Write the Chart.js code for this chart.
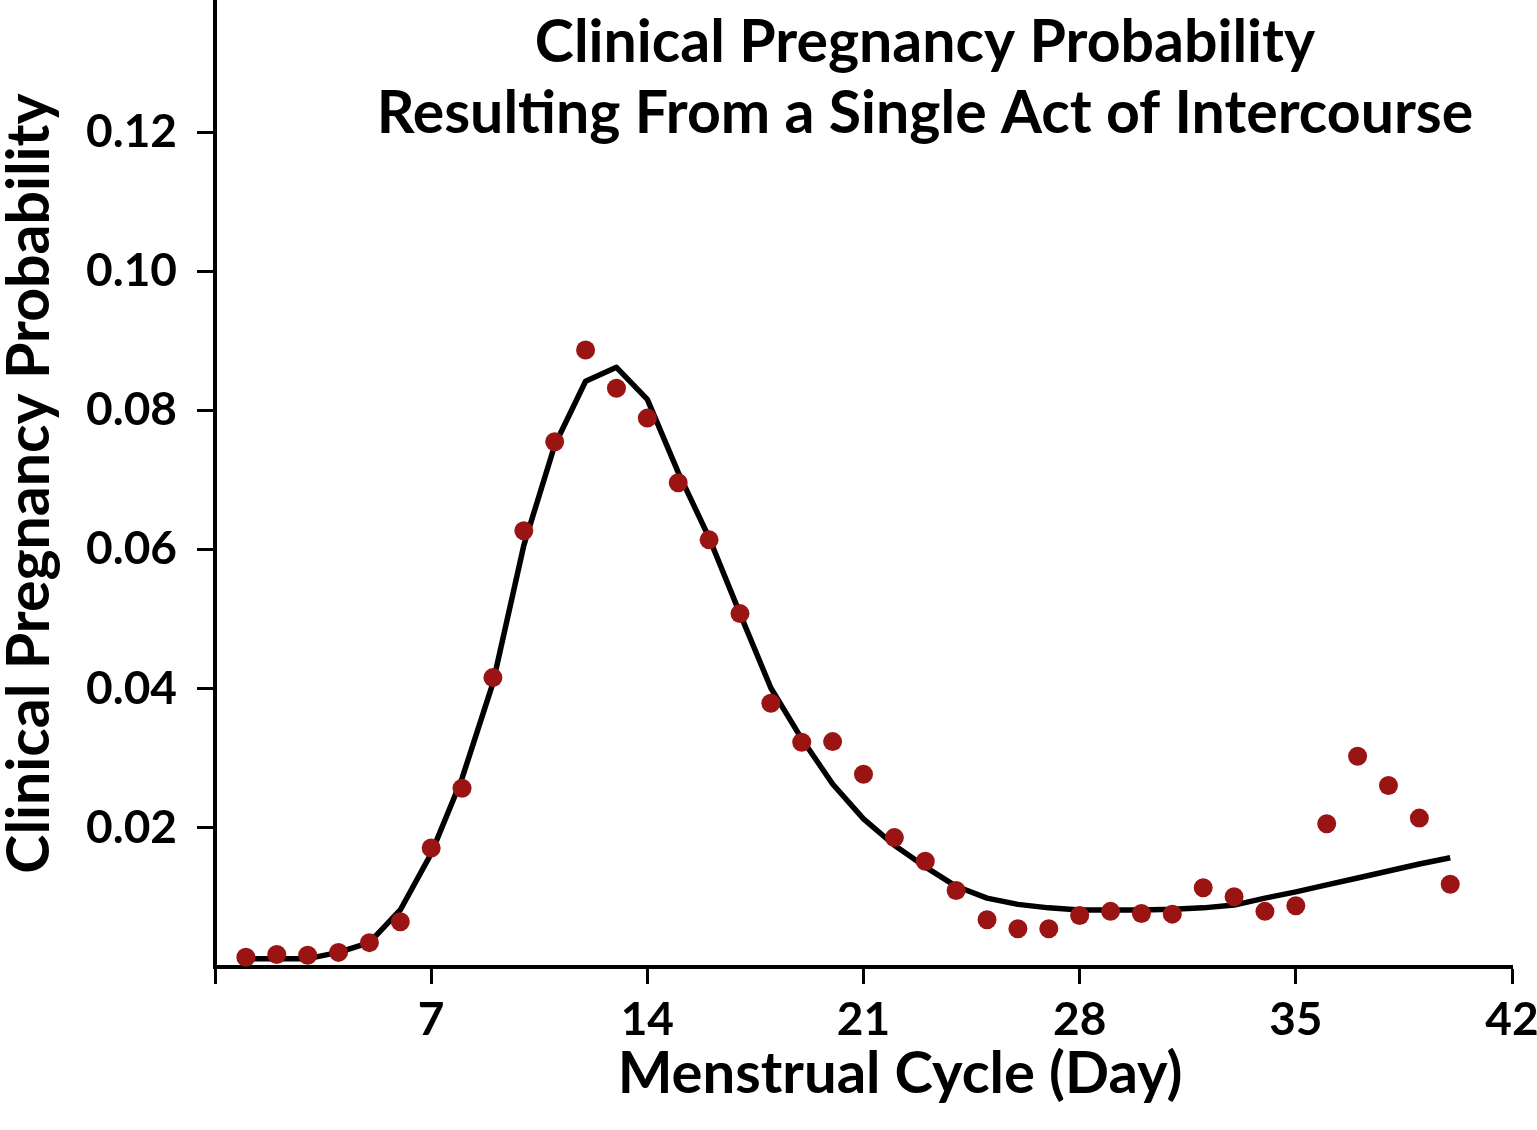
<!DOCTYPE html>
<html>
<head>
<meta charset="utf-8">
<script src="https://cdn.jsdelivr.net/npm/chart.js@4.4.1/dist/chart.umd.min.js"></script>
<style>
    html, body { margin: 0; padding: 0; background: #ffffff; }
    #wrap { width: 1537px; height: 1130px; }
</style>
</head>
<body>
<div id="wrap"><canvas id="myChart" width="1537" height="1130"></canvas></div>
<script>
// menstrual cycle day for each observation
const days = [
    1, 2, 3, 4, 5, 6, 7, 8, 9, 10,
    11, 12, 13, 14, 15, 16, 17, 18, 19, 20,
    21, 22, 23, 24, 25, 26, 27, 28, 29, 30,
    31, 32, 33, 34, 35, 36, 37, 38, 39, 40
];

// observed probability per day (red dots)
const observed = [
    0.0014, 0.0018, 0.0017, 0.0021, 0.0035, 0.0065, 0.0171, 0.0257, 0.0416, 0.0627,
    0.0755, 0.0887, 0.0832, 0.0789, 0.0696, 0.0614, 0.0508, 0.0379, 0.0323, 0.0324,
    0.0277, 0.0186, 0.0152, 0.0110, 0.0068, 0.0055, 0.0055, 0.0074, 0.0080, 0.0077,
    0.0076, 0.0114, 0.0101, 0.0080, 0.0088, 0.0206, 0.0303, 0.0261, 0.0214, 0.0119
];

// fitted curve per day (black line)
const fitted = [
    0.0012, 0.0012, 0.0012, 0.0021, 0.0035, 0.0082, 0.0163, 0.0271, 0.0408, 0.0606,
    0.0750, 0.0842, 0.0862, 0.0816, 0.0711, 0.0617, 0.0508, 0.0401, 0.0328, 0.0263,
    0.0213, 0.0175, 0.0144, 0.0116, 0.0099, 0.0090, 0.0085, 0.0082, 0.0082, 0.0082,
    0.0083, 0.0085, 0.0089, 0.0099, 0.0108, 0.0118, 0.0128, 0.0138, 0.0148, 0.0157
];

const xTicks = [0, 7, 14, 21, 28, 35, 42];
const yTicks = [0.02, 0.04, 0.06, 0.08, 0.10, 0.12];

const titleLines = ['Clinical Pregnancy Probability', 'Resulting From a Single Act of Intercourse'];
const xTitle = 'Menstrual Cycle (Day)';
const yTitle = 'Clinical Pregnancy Probability';

const fontFamily = 'Lato, "Noto Sans", sans-serif';

// titles sit inside the plot, off-centre, so they are drawn here
const titlePlugin = {
    id: 'titles',
    afterDraw(chart) {
        const ctx = chart.ctx;
        ctx.save();
        ctx.fillStyle = '#000';
        ctx.textAlign = 'center';
        ctx.textBaseline = 'alphabetic';
        ctx.font = 'bold 59px ' + fontFamily;
        titleLines.forEach((line, i) => {
            ctx.fillText(line, 925, 62 + i * 71);
        });
        ctx.font = 'bold 58px ' + fontFamily;
        ctx.fillText(xTitle, 900, 1093);
        ctx.restore();
    }
};

const ctx = document.getElementById('myChart').getContext('2d');
const myChart = new Chart(ctx, {
    type: 'scatter',
    data: {
        datasets: [{
            label: 'Observed',
            data: days.map((d, i) => ({ x: d, y: observed[i] })),
            showLine: false,
            pointRadius: 9.5,
            pointHoverRadius: 9.5,
            pointBackgroundColor: '#9b1414',
            pointBorderWidth: 0
        }, {
            label: 'Fitted',
            data: days.map((d, i) => ({ x: d, y: fitted[i] })),
            showLine: true,
            tension: 0,
            borderColor: '#000',
            borderWidth: 5.5,
            borderJoinStyle: 'round',
            pointRadius: 0,
            pointHoverRadius: 0
        }]
    },
    options: {
        responsive: false,
        animation: false,
        devicePixelRatio: 1,
        layout: {
            autoPadding: false,
            padding: { left: 0, right: 25, top: 0, bottom: 0 }
        },
        plugins: {
            legend: { display: false },
            tooltip: { enabled: false },
            title: { display: false }
        },
        scales: {
            x: {
                type: 'linear',
                min: 0,
                max: 42,
                afterBuildTicks: scale => { scale.ticks = xTicks.map(v => ({ value: v })); },
                afterFit: scale => {
                    scale.height = 163;
                    scale.paddingLeft = 0;
                    scale.paddingRight = 0;
                },
                ticks: {
                    callback: v => (v === 0 ? '' : String(v)),
                    color: '#000',
                    padding: 9,
                    maxRotation: 0,
                    font: { family: fontFamily, size: 46, weight: 'bold' }
                },
                grid: {
                    drawOnChartArea: false,
                    drawTicks: true,
                    tickLength: 17,
                    tickWidth: 3,
                    tickColor: '#000'
                },
                border: { display: true, color: '#000', width: 4 }
            },
            y: {
                type: 'linear',
                min: 0,
                max: 0.139,
                afterBuildTicks: scale => { scale.ticks = yTicks.map(v => ({ value: v })); },
                afterFit: scale => {
                    scale.width = 215;
                    scale.paddingTop = 0;
                    scale.paddingBottom = 0;
                },
                ticks: {
                    callback: v => v.toFixed(2),
                    color: '#000',
                    padding: 20,
                    font: { family: fontFamily, size: 46, weight: 'bold' }
                },
                grid: {
                    drawOnChartArea: false,
                    drawTicks: true,
                    tickLength: 18,
                    tickWidth: 3,
                    tickColor: '#000'
                },
                border: { display: true, color: '#000', width: 4 },
                title: {
                    display: true,
                    text: yTitle,
                    color: '#000',
                    padding: { top: 0, bottom: 0 },
                    font: { family: fontFamily, size: 59, weight: 'bold', lineHeight: 1 }
                }
            }
        }
    },
    plugins: [titlePlugin]
});
</script>
</body>
</html>
